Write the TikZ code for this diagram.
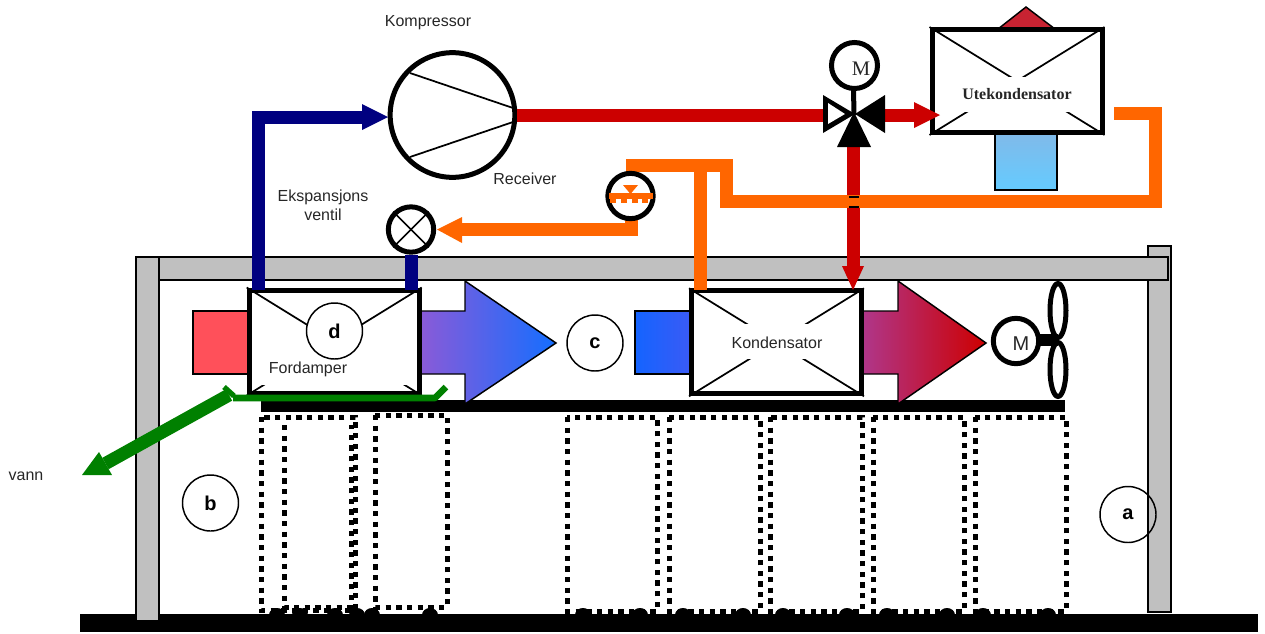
\documentclass[tikz,border=0pt]{standalone}
\usepackage{fontspec}
\setmainfont{Liberation Sans}
\newfontfamily\serifb{Liberation Serif}
\definecolor{pipeblue}{RGB}{0,0,128}
\definecolor{pipered}{RGB}{204,0,0}
\definecolor{pipeor}{RGB}{255,102,0}
\definecolor{pipegreen}{RGB}{0,128,0}
\definecolor{wallgray}{RGB}{192,192,192}
\tikzset{
 px/.style={x=0.75pt,y=-0.75pt},
 wall/.style={fill=wallgray,draw=black,line width=1.1pt},
 pipe/.style={line width=9.75pt,line cap=butt,line join=miter},
 coil/.style={draw=black,fill=white,line width=3.75pt,minimum width=127.5pt,minimum height=77.25pt,inner sep=0pt},
 xline/.style={draw=black,line width=1.3pt},
 ring/.style={circle,draw=black,fill=white,line width=3.75pt,inner sep=0pt},
 tag/.style={circle,draw=black,line width=1.1pt,minimum size=42pt,inner sep=0pt,font=\fontsize{15}{15}\selectfont\bfseries},
 lab/.style={font=\fontsize{12}{14}\selectfont,text=black!85,align=center,inner sep=0pt},
 cell/.style={draw=black,line width=3.75pt,dash pattern=on 4pt off 4pt},
 grad/.style={line width=1.1pt,draw=black},
}
\begin{document}
\begin{tikzpicture}[px]
\useasboundingbox (0,0) rectangle (1265,633);
% structure
\fill[black] (80,614) rectangle (1258,632);
\fill[black] (261,400) rectangle (1065,412);
\draw[wall] (1148,246) rectangle (1171,612);
\draw[wall] (136,257) rectangle (159,621);
\draw[wall] (159,257) rectangle (1168,280);
% dotted cells
\draw[cell] (261,417) rectangle (355,610);
\draw[cell] (284,425) -- (284,607) -- (351,607) -- (351,425);
\draw[cell] (375,415) rectangle (447,607);
\draw[cell] (567,417) rectangle (657,611);
\draw[cell] (669,417) rectangle (760,611);
\draw[cell] (770,417) rectangle (862,611);
\draw[cell] (873,417) rectangle (964,611);
\draw[cell] (975,417) rectangle (1066,611);
\foreach \x in {277,300,335,357,372,430,583,640,683,743,783,847,887,947,983,1048}{\fill[black] (\x,615) ellipse (8 and 7);}
% airflow shapes
\draw[grad,fill={rgb,255:red,255;green,80;blue,90}] (193,311) rectangle (250,374);
\draw[grad,left color={rgb,255:red,140;green,90;blue,215},right color={rgb,255:red,20;green,110;blue,255}]
  (418,311) -- (465,311) -- (465,281) -- (556,343) -- (465,404) -- (465,374) -- (418,374) -- cycle;
\draw[grad,left color={rgb,255:red,20;green,100;blue,255},right color={rgb,255:red,60;green,90;blue,245}] (635,311) rectangle (693,374);
\draw[grad,left color={rgb,255:red,175;green,55;blue,140},right color={rgb,255:red,205;green,0;blue,0}]
  (861,311) -- (898,311) -- (898,281) -- (986,343) -- (898,404) -- (898,374) -- (861,374) -- cycle;
% outdoor unit attachments
\draw[black,line width=1.1pt,fill={rgb,255:red,200;green,35;blue,50}] (998,29) -- (1026,7) -- (1055,29) -- cycle;
\draw[line width=1.5pt,top color={rgb,255:red,130;green,185;blue,232},bottom color={rgb,255:red,100;green,203;blue,255}] (995,130) rectangle (1057,190);
% coils
\node[coil] (ford) at (334.2,341.5) {};
\node[coil] (kond) at (776.5,342.3) {};
\node[coil] (ute) at (1017,81) {};
\foreach \n in {ford,kond,ute}{
  \draw[xline] (\n.north west) -- (\n.south east);
  \draw[xline] (\n.north east) -- (\n.south west);
}
% text masks and tags
\fill[white] (262,343) rectangle (407,385);
\fill[white] (735,324) rectangle (820,359);
\fill[white] (950,77) rectangle (1085,112);
\node[tag,fill=white] (d) at (334.5,331) {d};
\node[lab] (fordlab) at (308,369) {Fordamper};
\node[lab] (kondlab) at (777,343) {Kondensator};
\node[font=\serifb\fontsize{12}{14}\selectfont\bfseries,text=black!85,inner sep=0pt] (utelab) at (1017,94) {Utekondensator};
\node[tag,fill=white] (c) at (595,343) {c};
\node[tag] (b) at (210.5,503) {b};
\node[tag] (a) at (1128,514.5) {a};
% compressor
\node[circle,draw=black,fill=white,line width=3.75pt,minimum size=93.5pt,inner sep=0pt] (komp) at (452.5,115) {};
\coordinate (ka) at (410,73);
\coordinate (kb) at (513,108);
\coordinate (kc) at (410,157);
\coordinate (kd) at (513,122);
\draw[xline] (ka) -- (kb);
\draw[xline] (kc) -- (kd);
% blue pipe
\coordinate (bl1) at (258,290);
\coordinate (bl2) at (258,117);
\coordinate (blend) at (362,117);
\draw[pipeblue,pipe] (bl1) -- (bl2) -- (blend);
\fill[pipeblue] (362,104) -- (388,117) -- (362,130) -- cycle;
% red pipes
\coordinate (v) at (854,115);
\coordinate (vl) at (825,115);
\coordinate (vr) at (884,115);
\coordinate (vrr) at (915,115);
\coordinate (vd) at (853,140);
\draw[pipered,pipe] (komp.east) -- (vl);
\draw[pipered,pipe] (vr) -- (vrr);
\fill[pipered] (914,102) -- (940,115) -- (914,128) -- cycle;
\coordinate (rd) at (853,266);
\draw[pipered,pipe] (vd) -- (rd);
\fill[pipered] (842,266) -- (853,290) -- (864,266) -- cycle;
% orange pipes
\draw[pipeor,pipe] (1114,113) -- (1155,113) -- (1155,201) -- (726,201) -- (726,165) -- (626,165);
\draw[pipeor,pipe] (700,165) -- (700,290);
\draw[black,line width=.8pt] (849,197) -- (859,197) (849,207) -- (859,207);
\draw[pipeor,pipe] (631,215) -- (631,229.5) -- (462,229.5);
\fill[pipeor] (462,217) -- (437,229.5) -- (462,243) -- cycle;
% valve
\fill[black] (823,95) -- (823,133) -- (855,114) -- cycle;
\fill[white] (828,103) -- (828,124) -- (845,114) -- cycle;
\fill[black] (855,114) -- (885,95) -- (885,133) -- cycle;
\fill[black] (854,112) -- (871,147) -- (837,147) -- cycle;
\draw[black,line width=3.75pt] (853.5,88) -- (v);
\node[ring,minimum size=34.5pt] (vm) at (854.5,65.5) {};
\node[font=\serifb\fontsize{15.5}{15.5}\selectfont,text=black!85,inner sep=0pt] at (861,69) {M};
% receiver
\node[ring,minimum size=34pt] (rec) at (630.5,196) {};
\fill[pipeor] (623,185) -- (638,185) -- (630.5,194) -- cycle;
\fill[pipeor] (609,193) rectangle (653,199);
\foreach \x in {610,620.7,631.5,642.3}{\fill[pipeor] (\x,199) rectangle +(6,4);}
% expansion valve
\node[ring,minimum size=34pt] (exp) at (411,229.5) {};
\draw[xline] (exp.north west) -- (exp.south east);
\draw[xline] (exp.north east) -- (exp.south west);
\draw[pipeblue,pipe] (exp.south) -- (411,290);
% fan and motor
\draw[black,line width=9pt] (1037,340) -- (1058,340);
\draw[black,line width=3.75pt] (1058,310.5) ellipse (8 and 27);
\draw[black,line width=3.75pt] (1058,369.5) ellipse (8 and 27);
\node[ring,minimum size=34pt] (fm) at (1016,341) {};
\node[lab,font=\fontsize{15}{15}\selectfont] at (1021,344) {M};
% green
\coordinate (g1) at (233,398);
\coordinate (g2) at (435,398);
\draw[pipegreen,line width=5pt,line join=bevel] (g1) -- (g2) -- (446,387);
\draw[pipegreen,line width=4pt] (224,387) -- (234,396);
\draw[pipegreen,line width=9.75pt] (229,395) -- (105.5,463.5);
\fill[pipegreen] (82,475) -- (99,452) -- (112,475) -- cycle;
% labels
\node[lab] at (428,23) {Kompressor};
\node[lab] at (525,179) {Receiver};
\node[lab] at (323,205) {Ekspansjons\\ventil};
\node[lab] at (26,476) {vann};
\end{tikzpicture}
\end{document}
